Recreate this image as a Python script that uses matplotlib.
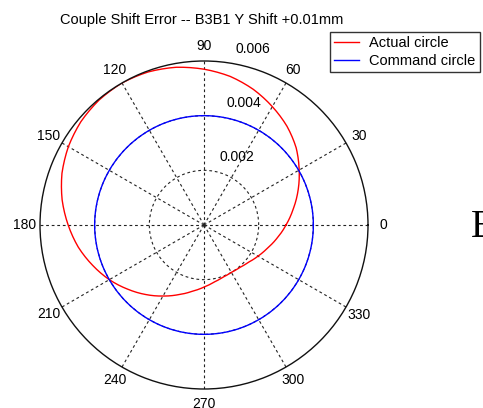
import numpy as np
import matplotlib
matplotlib.use("Agg")
import matplotlib.pyplot as plt

# ---- data ----
theta_deg = [0, 10, 20, 30, 40, 50, 60, 70, 80, 90, 100, 110, 120, 130, 140, 150,
             160, 170, 180, 190, 200, 210, 220, 230, 240, 250, 260, 270, 280, 290,
             300, 310, 320, 330, 340, 350, 360]
actual_r = [0.00300, 0.00331, 0.00366, 0.00402, 0.00440, 0.00472, 0.00500, 0.00528,
            0.00552, 0.00570, 0.00586, 0.00596, 0.00600, 0.00597, 0.00588, 0.00573,
            0.00553, 0.00527, 0.00497, 0.00467, 0.00433, 0.00400, 0.00365, 0.00332,
            0.00300, 0.00271, 0.00246, 0.00227, 0.00212, 0.00203, 0.00200, 0.00203,
            0.00212, 0.00228, 0.00247, 0.00272, 0.00300]
command_radius = 0.004
ring_values = [0.002, 0.004, 0.006]
ring_labels = ["0.002", "0.004", "0.006"]
angle_ticks = [0, 30, 60, 90, 120, 150, 180, 210, 240, 270, 300, 330]
angle_labels = ["0", "30", "60", "90", "120", "150", "180", "210", "240", "270", "300", "330"]
title = "Couple Shift Error -- B3B1 Y Shift +0.01mm"
series_names = ["Actual circle", "Command circle"]

plt.rcParams['font.family'] = ['Liberation Sans', 'DejaVu Sans']
FS = 10

W, H = 483, 408
fig = plt.figure(figsize=(W / 100, H / 100), dpi=100)
fig.patch.set_facecolor("white")

cx, cy, R = 204, 225, 164
ax = fig.add_axes([(cx - R) / W, (H - cy - R) / H, 2 * R / W, 2 * R / H], projection="polar")
ax.set_facecolor("white")
ax.set_ylim(0, ring_values[-1])

th = np.deg2rad(theta_deg)
l1, = ax.plot(th, actual_r, color="#ff0000", lw=1.0, label=series_names[0])
l2, = ax.plot(th, np.full(len(th), command_radius), color="#0000ff", lw=1.0,
              label=series_names[1])
# let the polar transform draw smooth arcs between the read points
for ln in (l1, l2):
    ln.get_path()._interpolation_steps = 12

# grid
ax.set_rticks(ring_values[:-1])
ax.set_yticklabels([])
ax.set_xticks(np.deg2rad(angle_ticks))
ax.set_xticklabels([])
ax.grid(True, color="#222222", linestyle=(0, (2.5, 2.5)), linewidth=0.8)
ax.spines["polar"].set_color("#111111")
ax.spines["polar"].set_linewidth(1.0)
ax.tick_params(length=0)

# angle labels
r_lab = ring_values[-1] * 179 / 164
for a, lab in zip(angle_ticks, angle_labels):
    ax.text(np.deg2rad(a), r_lab, lab, ha="center", va="center", fontsize=FS,
            clip_on=False)

# ring labels
ring_pos = [(75.3, 0.0023), (78.7, 0.00429), (79.6, 0.00629)]
for (a, r), lab in zip(ring_pos, ring_labels):
    ax.text(np.deg2rad(a), r, lab, ha="left", va="bottom", fontsize=FS, clip_on=False)

fig.text(202 / W, 1 - 20 / H, title, ha="center", va="center", fontsize=10.5)

leg = fig.legend(handles=[l1, l2], loc="upper left",
                 bbox_to_anchor=(330 / W, 1 - 32 / H), fontsize=10.5,
                 frameon=True, fancybox=False, borderpad=0.3, labelspacing=0.25,
                 handlelength=1.7, handletextpad=0.7, borderaxespad=0)
leg.get_frame().set_edgecolor("black")
leg.get_frame().set_linewidth(1.0)

# fragment of surrounding document at the right edge
fig.text(471 / W, 1 - 236.7 / H, "E", family="Liberation Serif", fontsize=28,
         ha="left", va="baseline")

fig.savefig("out.png", dpi=100, facecolor="white")
